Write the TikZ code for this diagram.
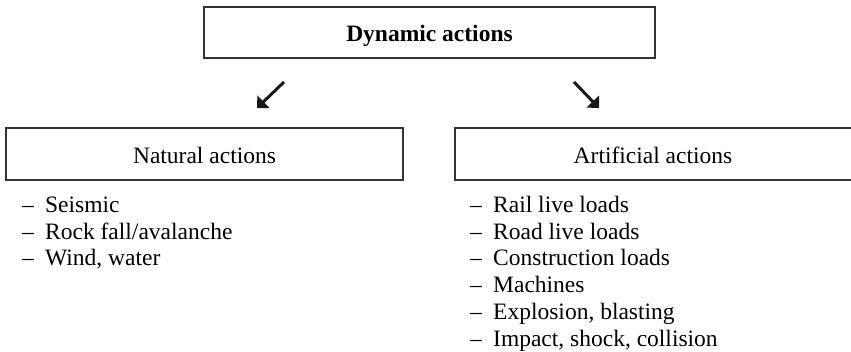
\documentclass[tikz,border=0pt]{standalone}
\usepackage{fontspec}
\setmainfont{Liberation Serif}
\usetikzlibrary{arrows.meta}
\newcommand{\dashitem}[1]{\makebox[23pt][l]{–}#1}
\begin{document}
\begin{tikzpicture}[x=1pt,y=-1pt,
  box/.style={draw=black!80, line width=1.1pt, inner sep=0pt},
  lbl/.style={font=\fontsize{23.5}{27}\selectfont, inner sep=0pt, anchor=base},
  item/.style={font=\fontsize{23.5}{27}\selectfont, inner sep=0pt, anchor=base west},
  pointer/.style={-{Triangle[length=9pt,width=17pt]}, line width=3pt, black!90}]
\useasboundingbox (0,0) rectangle (851,351);

% boxes
\node[box, minimum width=451pt, minimum height=51pt] (dyn) at (429.5,32.5) {};
\node[box, minimum width=397pt, minimum height=52pt] (nat) at (204.5,154) {};
\node[box, minimum width=399pt, minimum height=52pt] (art) at (654.5,154) {};

% headings
\node[lbl] (dyntext) at (429.5,41.5) {\textbf{Dynamic actions}};
\node[lbl] (nattext) at (204.5,163) {Natural actions};
\node[lbl] (arttext) at (653,163) {Artificial actions};

% arrows
\coordinate (la) at (284,82);
\coordinate (lb) at (257,108);
\coordinate (ra) at (574,82);
\coordinate (rb) at (599,108);
\draw[pointer] (la) -- (lb);
\draw[pointer] (ra) -- (rb);

% natural actions
\node[item] (n1) at (22,212.5) {\dashitem{Seismic}};
\node[item] (n2) at (22,239.2) {\dashitem{Rock fall/avalanche}};
\node[item] (n3) at (22,265.9) {\dashitem{Wind, water}};

% artificial actions
\node[item] (a1) at (470,212.5) {\dashitem{Rail live loads}};
\node[item] (a2) at (470,239.2) {\dashitem{Road live loads}};
\node[item] (a3) at (470,265.9) {\dashitem{Construction loads}};
\node[item] (a4) at (470,292.6) {\dashitem{Machines}};
\node[item] (a5) at (470,319.3) {\dashitem{Explosion, blasting}};
\node[item] (a6) at (470,346) {\dashitem{Impact, shock, collision}};
\end{tikzpicture}
\end{document}
